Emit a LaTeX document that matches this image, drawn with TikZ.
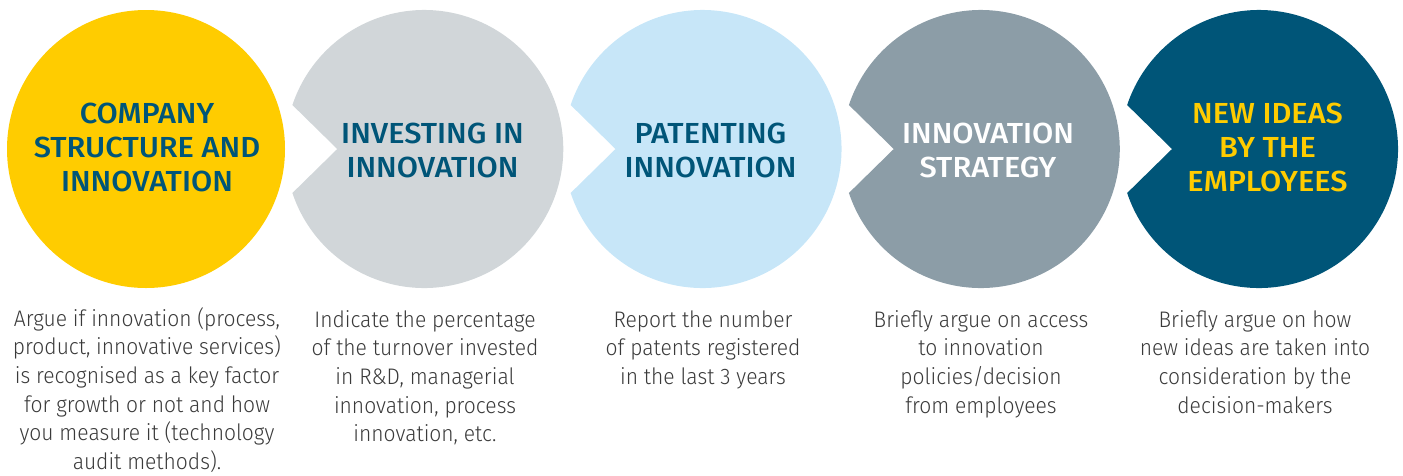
\documentclass[tikz,border=0pt]{standalone}
\usepackage{fontspec}
\setmainfont{Fira Sans}
\newfontfamily\titlefont{Fira Sans}[UprightFont=* Medium, FakeStretch=1.06]
\newfontfamily\bodyfont{Fira Sans}[UprightFont=* Light, FakeStretch=0.935]
\usetikzlibrary{calc}
\definecolor{cyellow}{HTML}{FFCC00}
\definecolor{cgray}{HTML}{D1D6D9}
\definecolor{clblue}{HTML}{C7E6F8}
\definecolor{cslate}{HTML}{8C9DA7}
\definecolor{cdark}{HTML}{005578}
\definecolor{bodygray}{HTML}{3A3A3A}
\tikzset{
  title/.style={anchor=center, align=center, inner sep=0pt, text=cdark,
    font={\titlefont\fontsize{29}{34}\selectfont}},
  body/.style={anchor=north, align=center, inner sep=0pt, text=bodygray,
    font={\bodyfont\fontsize{22.5}{28.6}\selectfont}},
  notched/.style={fill=#1}
}
\newcommand{\notchcircle}[2]{%
  \fill[notched=#2] ($(#1)+(161.55:139)$) arc[start angle=161.55, end angle=-161.55, radius=139]
    -- ($(#1)+(-87,0)$) -- cycle;}
\begin{document}
\begin{tikzpicture}[x=1pt,y=-1pt]
\useasboundingbox (0,0) rectangle (1403,475);
\coordinate (c1) at (146,149);
\coordinate (c2) at (424.25,149);
\coordinate (c3) at (702.5,149);
\coordinate (c4) at (980.75,149);
\coordinate (c5) at (1259,149);
\fill[cyellow] (c1) circle[radius=139];
\notchcircle{c2}{cgray}
\notchcircle{c3}{clblue}
\notchcircle{c4}{cslate}
\notchcircle{c5}{cdark}
\node[title] (t1) at (147,147) {COMPANY\\STRUCTURE AND\\INNOVATION};
\node[title] (t2) at (432.5,150) {INVESTING IN\\INNOVATION};
\node[title] (t3) at (710.5,150) {PATENTING\\INNOVATION};
\node[title, text=white] (t4) at (988,150) {INNOVATION\\STRATEGY};
\node[title, text=cyellow] (t5) at (1267.5,147) {NEW IDEAS\\BY THE\\EMPLOYEES};
\node[body] (b1) at (147,306) {\rule{0pt}{20pt}Argue if innovation (process,\\product, innovative services)\\is recognised as a key factor\\for growth or not and how\\you measure it (technology\\audit methods).};
\node[body] (b2) at (425,307) {\rule{0pt}{20pt}Indicate the percentage\\of the turnover invested\\in R\&D, managerial\\innovation, process\\innovation, etc.};
\node[body] (b3) at (703,307) {\rule{0pt}{20pt}Report the number\\of patents registered\\in the last 3 years};
\node[body] (b4) at (981,307) {\rule{0pt}{20pt}Briefly argue on access\\to innovation\\policies/decision\\from employees};
\node[body] (b5) at (1255,307) {\rule{0pt}{20pt}Briefly argue on how\\new ideas are taken into\\consideration by the\\decision-makers};
\end{tikzpicture}
\end{document}
